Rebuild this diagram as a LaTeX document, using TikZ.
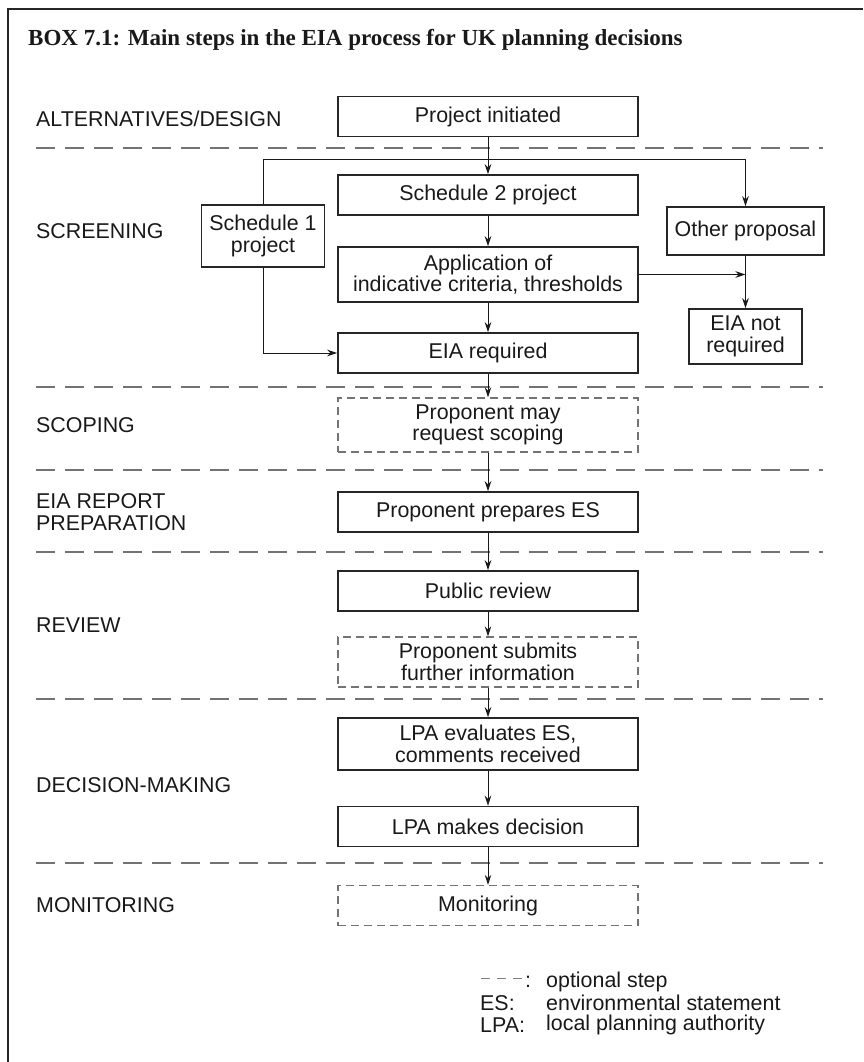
\documentclass[tikz,border=0pt]{standalone}
\usepackage{fontspec}
\setmainfont{Liberation Sans}
\newfontfamily\boxtitlefont{Liberation Serif}
\usetikzlibrary{arrows.meta}

\newcommand{\stepfont}{\fontsize{21.4}{21.7}\selectfont}

\tikzset{
  stepbox/.style={draw=black!85, line width=1.5pt, minimum width=300pt,
    minimum height=40pt, align=center, inner sep=0pt, text=black!90, font=\stepfont},
  optbox/.style={stepbox, draw=black!55, line width=1.3pt, dash pattern=on 8pt off 5pt},
  sidebox/.style={stepbox, minimum width=0pt},
  phase/.style={anchor=west, align=left, inner sep=0pt, text=black!90, font=\stepfont},
  legtext/.style={anchor=west, inner sep=0pt, text=black!90, font=\stepfont},
  sepline/.style={draw=black!55, line width=1.8pt, dash pattern=on 19pt off 10pt},
  flow/.style={->, line width=1pt, draw=black!90},
}

\begin{document}
\begin{tikzpicture}[x=1pt, y=-1pt, >={Stealth[length=10pt,width=6.5pt]}]
        \useasboundingbox (0,0) rectangle (863,1062);

        % marco y titulo
        \draw[line width=1.2pt, black!85] (8,1062) -- (8,9) -- (863,9);
        \node[anchor=base west, inner sep=0pt, text=black!90,
              font=\boxtitlefont\bfseries\fontsize{23}{26}\selectfont]
              (title) at (28,46) {BOX 7.1: Main steps in the EIA process for UK planning decisions};

        % separadores de fases
        \foreach \y in {148,387,470,552,699,863}
            \draw[sepline] (36,\y) -- (823,\y);

        % fases
        \node[phase] (ph-alt) at (36,119) {ALTERNATIVES/DESIGN};
        \node[phase] (ph-scr) at (36,231) {SCREENING};
        \node[phase] (ph-scop) at (36,425) {SCOPING};
        \node[phase] (ph-rep) at (36,512) {EIA REPORT\\PREPARATION};
        \node[phase] (ph-rev) at (36,625) {REVIEW};
        \node[phase] (ph-dec) at (36,785) {DECISION-MAKING};
        \node[phase] (ph-mon) at (36,905) {MONITORING};

        % pasos
        \node[stepbox] (init) at (488,116.5) {Project initiated};
        \node[stepbox] (sch2) at (488,195) {Schedule 2 project};
        \node[stepbox, minimum height=55pt] (app) at (488,274.5) {Application of\\indicative criteria, thresholds};
        \node[stepbox] (eiareq) at (488,353) {EIA required};
        \node[sidebox, minimum width=123pt, minimum height=62pt] (sch1) at (263,236) {Schedule 1\\project};
        \node[sidebox, minimum width=157pt, minimum height=48pt] (other) at (745.5,231) {Other proposal};
        \node[sidebox, minimum width=113pt, minimum height=55pt] (noeia) at (745.5,336.5) {EIA not\\required};
        \node[optbox, minimum height=54pt] (scop) at (488,425) {Proponent may\\request scoping};
        \node[stepbox] (prep) at (488,512) {Proponent prepares ES};
        \node[stepbox] (pub) at (488,591) {Public review};
        \node[optbox, minimum height=50pt] (subm) at (488,662) {Proponent submits\\further information};
        \node[stepbox, minimum height=52pt] (eval) at (488,744) {LPA evaluates ES,\\comments received};
        \node[stepbox] (dec) at (488,826.5) {LPA makes decision};
        \node[optbox] (mon) at (488,905.5) {Monitoring};

        % flechas
        \coordinate (fork) at (488,159);
        \coordinate (join) at (745.5,274.5);
        \draw[flow] (init) -- (sch2);
        \draw[line width=1pt, black!90] (sch1.north) |- (fork);
        \draw[flow] (fork) -| (other.north);
        \draw[flow] (sch2) -- (app);
        \draw[flow] (app) -- (eiareq);
        \draw[flow] (app.east) -- (join);
        \draw[flow] (other) -- (noeia);
        \draw[flow] (sch1.south) |- (eiareq.west);
        \draw[flow] (eiareq) -- (scop);
        \draw[flow] (scop) -- (prep);
        \draw[flow] (prep) -- (pub);
        \draw[flow] (pub) -- (subm);
        \draw[flow] (subm) -- (eval);
        \draw[flow] (eval) -- (dec);
        \draw[flow] (dec) -- (mon);

        % leyenda
        \draw[draw=black!50, line width=0.9pt, dash pattern=on 9pt off 7pt] (481,978) -- (522,978);
        \node[legtext] (leg-colon) at (525,982) {:};
        \node[legtext] (leg-opt) at (546,982) {optional step};
        \node[legtext] (leg-es) at (480,1003) {ES:};
        \node[legtext] (leg-es-t) at (546,1003) {environmental statement};
        \node[legtext] (leg-lpa) at (480,1025) {LPA:};
        \node[legtext] (leg-lpa-t) at (546,1025) {local planning authority};
    \end{tikzpicture}
\end{document}
